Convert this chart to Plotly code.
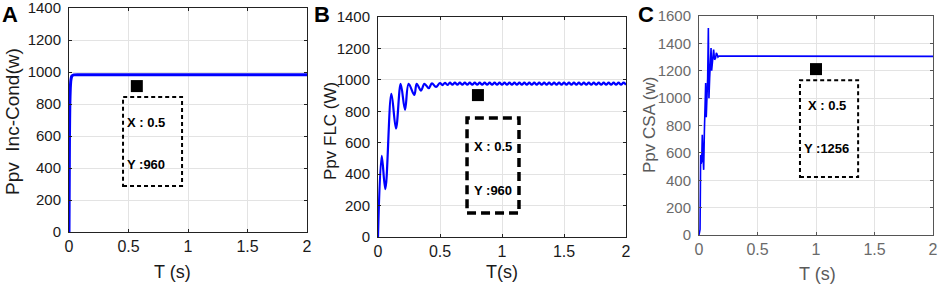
import plotly.graph_objects as go

# Panel A - Inc-Cond
t_a = [0, 0.002, 0.004, 0.007, 0.011, 0.016, 0.024, 0.04, 0.08, 2.0]
p_a = [0, 300, 600, 800, 900, 950, 975, 982, 983, 983]

# Panel B - FLC (damped oscillation then small ripple)
t_b = [0, 0.03, 0.059, 0.108, 0.145, 0.183, 0.218, 0.247, 0.293, 0.312,
       0.347, 0.374, 0.409, 0.435, 0.468, 0.5,
       0.52, 0.54, 0.56, 0.58, 0.60, 0.62, 0.64, 0.66, 0.68, 0.70,
       0.72, 0.74, 0.76, 0.78, 0.80, 0.82, 0.84, 0.86, 0.88, 0.90,
       0.92, 0.94, 0.96, 0.98, 1.00, 1.02, 1.04, 1.06, 1.08, 1.10,
       1.12, 1.14, 1.16, 1.18, 1.20, 1.22, 1.24, 1.26, 1.28, 1.30,
       1.32, 1.34, 1.36, 1.38, 1.40, 1.42, 1.44, 1.46, 1.48, 1.50,
       1.52, 1.54, 1.56, 1.58, 1.60, 1.62, 1.64, 1.66, 1.68, 1.70,
       1.72, 1.74, 1.76, 1.78, 1.80, 1.82, 1.84, 1.86, 1.88, 1.90,
       1.92, 1.94, 1.96, 1.98, 2.00]
p_b = [0, 516, 304, 911, 690, 975, 809, 975, 904, 975,
       932, 975, 947, 978, 955, 980,
       967, 981, 968, 982, 969, 982, 969, 982, 969, 982,
       969, 982, 969, 982, 969, 982, 969, 982, 969, 982,
       969, 982, 969, 982, 969, 982, 969, 982, 969, 982,
       969, 982, 969, 982, 969, 982, 969, 982, 969, 982,
       969, 982, 969, 982, 969, 982, 969, 982, 969, 982,
       969, 982, 969, 982, 969, 982, 969, 982, 969, 982,
       969, 982, 969, 982, 969, 982, 969, 982, 969, 982,
       969, 982, 969, 982, 969]

# Panel C - CSA
t_c = [0, 0.005, 0.009, 0.012, 0.014, 0.018, 0.023, 0.028, 0.033, 0.04,
       0.046, 0.052, 0.057, 0.062, 0.068, 0.074, 0.08, 0.085, 0.091, 0.097,
       0.103, 0.108, 0.114, 0.12, 0.125, 0.133, 0.142, 0.148, 0.154, 0.162,
       0.171, 2.0]
p_c = [0, 20, 40, 350, 585, 520, 537, 732, 600, 476,
       756, 900, 1110, 860, 1000, 1146, 1512, 1000, 1146, 1300,
       1366, 1200, 1268, 1340, 1354, 1280, 1293, 1330, 1322, 1300,
       1307, 1305]

# data-tip markers and boxes
tips_x = [0.57, 0.806, 1.0]
tips_y = [912, 903, 1212]
box_x0 = [0.454, 0.718, 0.863]
box_x1 = [0.95, 1.137, 1.36]
box_y0 = [287, 153, 423]
box_y1 = [844, 757, 1131]
lbl_x = [0.65, 0.93, 1.09]
lbl_xy = [687, 579, 949]
lbl_yy = [419, 299, 635]
lbl_x_text = ["X : 0.5", "X : 0.5", "X : 0.5"]
lbl_y_text = ["Y :960", "Y :960", "Y :1256"]

y_titles = ["Ppv  Inc-Cond(w)", "Ppv FLC (W)", "Ppv CSA (w)"]
x_titles = ["T (s)", "T(s)", "T (s)"]
panel_tags = ["A", "B", "C"]

W, H = 941, 284
def fx(px): return px / W
def fy(py): return 1 - py / H

BLUE = "#0000ff"
fig = go.Figure()
fig.add_trace(go.Scatter(x=t_a, y=p_a, mode="lines", line=dict(color=BLUE, width=3, shape="spline", smoothing=0.5),
                         xaxis="x", yaxis="y", showlegend=False))
fig.add_trace(go.Scatter(x=t_b, y=p_b, mode="lines", line=dict(color=BLUE, width=2.2, shape="spline", smoothing=1),
                         xaxis="x2", yaxis="y2", showlegend=False))
fig.add_trace(go.Scatter(x=t_c, y=p_c, mode="lines", line=dict(color=BLUE, width=1.6),
                         xaxis="x3", yaxis="y3", showlegend=False))

axes = ["", "2", "3"]
for i, ax in enumerate(axes):
    fig.add_trace(go.Scatter(x=[tips_x[i]], y=[tips_y[i]], mode="markers",
                             marker=dict(symbol="square", size=12, color="black"),
                             xaxis="x" + ax, yaxis="y" + ax, showlegend=False))

box_w = [2, 3.5, 2]
box_dash = ["4px,3px", "9px,5px", "4px,3px"]
for i, ax in enumerate(axes):
    fig.add_shape(type="rect", xref="x" + ax, yref="y" + ax,
                  x0=box_x0[i], x1=box_x1[i], y0=box_y0[i], y1=box_y1[i],
                  line=dict(color="black", width=box_w[i], dash=box_dash[i]))
    for txt, yy in [(lbl_x_text[i], lbl_xy[i]), (lbl_y_text[i], lbl_yy[i])]:
        fig.add_annotation(x=lbl_x[i], y=yy, xref="x" + ax, yref="y" + ax, text="<b>%s</b>" % txt,
                           showarrow=False, xanchor="center", yanchor="middle",
                           font=dict(size=13, color="black", family="Liberation Sans"))

# plot areas in pixels (left, right, top, bottom)
areas = [(69, 307, 8, 232), (378, 626, 17, 237), (699, 933, 16, 235)]
yranges = [[0, 1400], [0, 1400], [0, 1600]]
tick_col = ["#1a1a1a", "#1a1a1a", "#6a6a6a"]
frame_col = ["#222222", "#222222", "#555555"]
layout = {}
for i, ax in enumerate(axes):
    l, r, t, b = areas[i]
    layout["xaxis" + ax] = dict(domain=[fx(l), fx(r)], range=[0, 2], anchor="y" + ax,
                                tickvals=[0, 0.5, 1, 1.5, 2], ticktext=["0", "0.5", "1", "1.5", "2"],
                                showgrid=True, gridcolor="#e3e3e3", zeroline=False,
                                showline=True, linecolor=frame_col[i], linewidth=1, mirror="ticks",
                                ticks="inside", ticklen=3, tickcolor=frame_col[i],
                                ticklabelstandoff=0, ticklabeloverflow="allow", automargin=False,
                                tickfont=dict(size=16, color=tick_col[i], family="Liberation Sans"))
    layout["yaxis" + ax] = dict(domain=[fy(b), fy(t)], range=yranges[i], anchor="x" + ax,
                                dtick=200, showgrid=True, gridcolor="#e3e3e3", zeroline=False,
                                showline=True, linecolor=frame_col[i], linewidth=1, mirror="ticks",
                                ticks="inside", ticklen=3, tickcolor=frame_col[i],
                                ticklabelstandoff=4, ticklabeloverflow="allow", automargin=False,
                                tickfont=dict(size=15, color=tick_col[i], family="Liberation Sans"))

fig.update_layout(width=W, height=H, margin=dict(l=0, r=0, t=0, b=0, pad=0, autoexpand=False),
                  paper_bgcolor="white", plot_bgcolor="white", **layout)

# axis titles and panel tags as paper annotations
ytitle_pos = [(12, 122), (331, 131), (650, 125)]
xtitle_pos = [(172, 272), (502, 272), (817, 274)]
tag_pos = [(10, 14), (322, 14), (646, 14)]
title_col = ["#1a1a1a", "#1a1a1a", "#5a5a5a"]
ytitle_size = [19, 17, 17]
for i in range(3):
    fig.add_annotation(x=fx(ytitle_pos[i][0]), y=fy(ytitle_pos[i][1]), xref="paper", yref="paper",
                       text=y_titles[i], textangle=-90, showarrow=False,
                       xanchor="center", yanchor="middle",
                       font=dict(size=ytitle_size[i], color=title_col[i], family="Liberation Sans"))
    fig.add_annotation(x=fx(xtitle_pos[i][0]), y=fy(xtitle_pos[i][1]), xref="paper", yref="paper",
                       text=x_titles[i], showarrow=False, xanchor="center", yanchor="middle",
                       font=dict(size=18, color=title_col[i], family="Liberation Sans"))
    fig.add_annotation(x=fx(tag_pos[i][0]), y=fy(tag_pos[i][1]), xref="paper", yref="paper",
                       text="<b>%s</b>" % panel_tags[i], showarrow=False,
                       xanchor="center", yanchor="middle",
                       font=dict(size=22, color="black", family="Liberation Sans"))

# drop the page's default body margin so the figure sits at the window corner
fig.write_html("out.html", config={"displayModeBar": False},
               post_script="document.body.style.margin='0';")
